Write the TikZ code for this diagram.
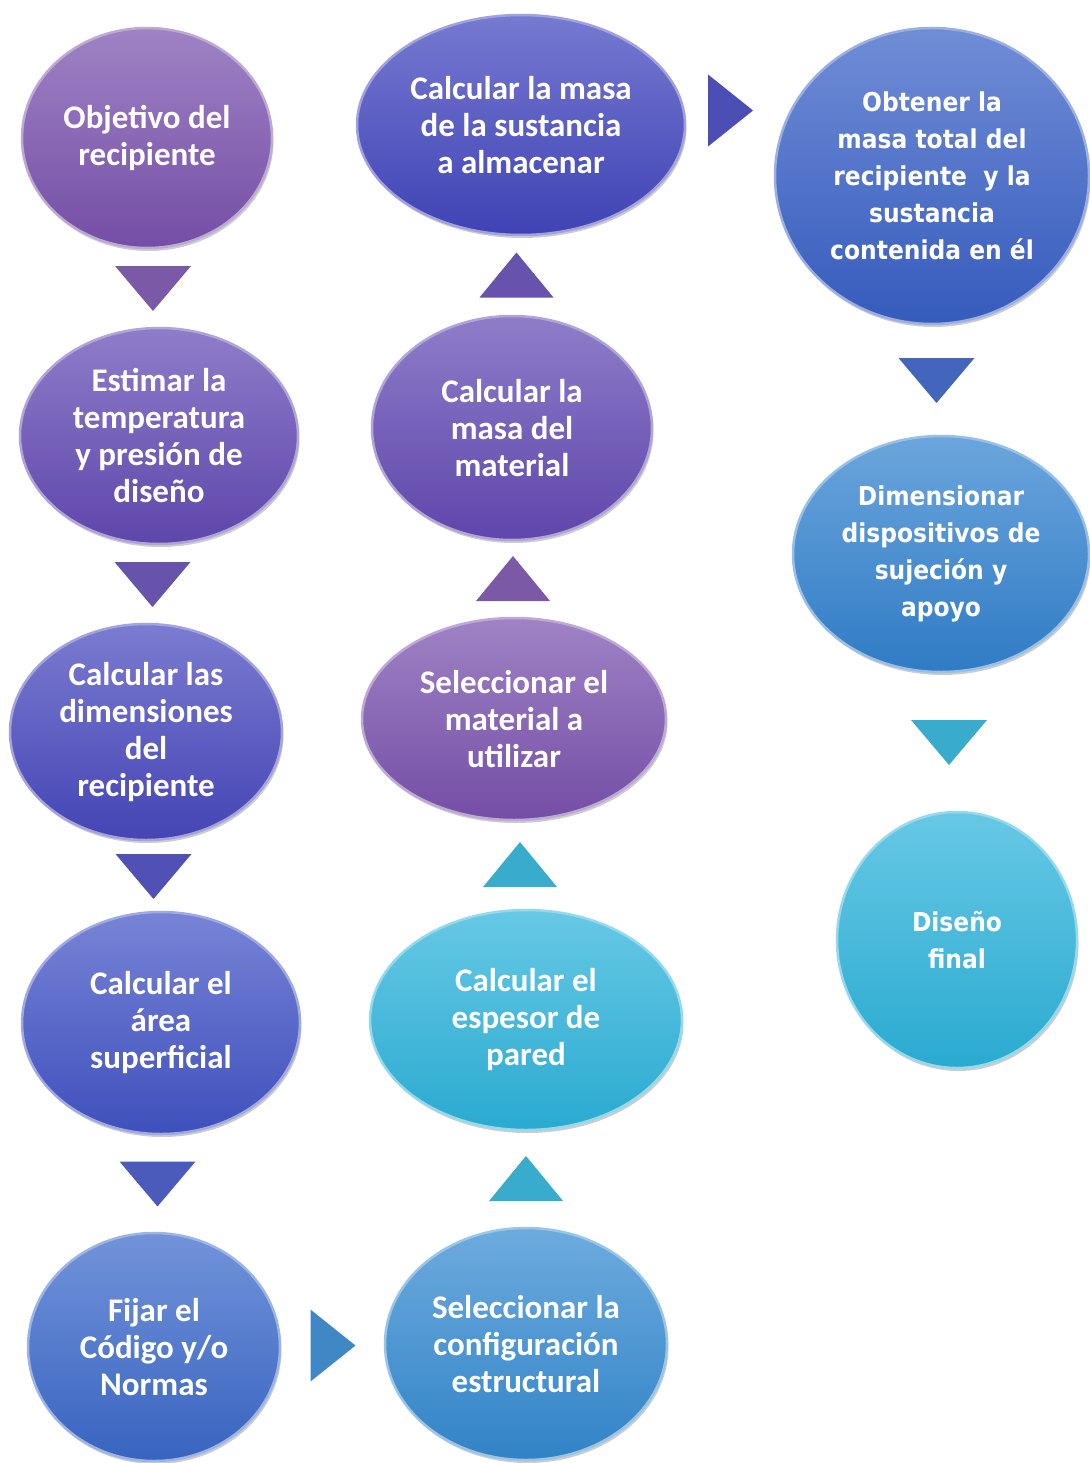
\documentclass[tikz,border=0pt]{standalone}
\usepackage{fontspec}
\usepackage{tikz}
\usetikzlibrary{shapes,arrows,shadows,calc}
\newfontfamily\calibfont{Carlito}
\newfontfamily\verdfont[FakeStretch=0.9]{DejaVu Sans}

\definecolor{lilaA}{HTML}{7A52AE}
\definecolor{lilaB}{HTML}{634AB4}
\definecolor{azulA}{HTML}{4848BE}
\definecolor{azulB}{HTML}{4254C6}
\definecolor{azulC}{HTML}{3B69CA}
\definecolor{azulD}{HTML}{348AD1}
\definecolor{cian}{HTML}{2CB3DB}
\definecolor{azulM}{HTML}{4246BE}
\definecolor{azulO}{HTML}{3860C6}
\definecolor{azulP}{HTML}{3282CF}

\tikzset{
  etapa/.style={ellipse, inner sep=0pt, align=center, text=white,
    draw=#1!50!white, line width=2.5pt, top color=#1!72!white, bottom color=#1!95!black,
    drop shadow={shadow xshift=1.5pt, shadow yshift=-3pt, opacity=0.4},
    font={\calibfont\bfseries\fontsize{33}{37}\selectfont}},
  etapav/.style={etapa=#1, font={\verdfont\bfseries\fontsize{26}{37}\selectfont}},
  tridown/.pic={\path[pic actions] (-38,-22) -- (38,-22) -- (0,23) -- cycle;},
  triup/.pic={\path[pic actions] (-37,22) -- (37,22) -- (0,-23) -- cycle;},
  triright/.pic={\path[pic actions] (-22,-36) -- (-22,36) -- (23,0) -- cycle;}
}

\begin{document}
\begin{tikzpicture}[x=1pt,y=-1pt]
\useasboundingbox (0,0) rectangle (1089,1463);

\node (obj) at (147,138) [etapa=lilaA, minimum width=250pt, minimum height=220pt] {Objetivo del\\recipiente};
\node (est) at (159,436) [etapa=lilaB, minimum width=278pt, minimum height=216pt] {Estimar la\\temperatura\\y presión de\\diseño};
\node (dim) at (146,732) [etapa=azulA, minimum width=272pt, minimum height=216pt] {Calcular las\\dimensiones\\del\\recipiente};
\node (are) at (161,1023) [etapa=azulB, minimum width=278pt, minimum height=222pt] {Calcular el\\área\\superficial};
\node (fij) at (154,1347) [etapa=azulC, minimum width=252pt, minimum height=228pt] {Fijar el\\Código y/o\\Normas};

\node (con) at (526,1344) [etapa=azulD, minimum width=282pt, minimum height=232pt] {Seleccionar la\\configuración\\estructural};
\node (esp) at (526,1020) [etapa=cian, minimum width=312pt, minimum height=220pt] {Calcular el\\espesor de\\pared};
\node (sel) at (514,719) [etapa=lilaA, minimum width=304pt, minimum height=202pt] {Seleccionar el\\material a\\utilizar};
\node (mma) at (512,428) [etapa=lilaB, minimum width=280pt, minimum height=224pt] {Calcular la\\masa del\\material};
\node (mss) at (521,125) [etapa=azulM, minimum width=328pt, minimum height=220pt] {Calcular la masa\\de la sustancia\\a almacenar};

\node (obt) at (932,176) [etapav=azulO, minimum width=314pt, minimum height=296pt] {Obtener la\\masa total del\\recipiente\ \ y la\\sustancia\\contenida en él};
\node (dis) at (941,554) [etapav=azulP, minimum width=296pt, minimum height=236pt] {Dimensionar\\dispositivos de\\sujeción y\\apoyo};
\node (fin) at (957,940) [etapav=cian, minimum width=240pt, minimum height=256pt] {Diseño\\final};

\pic [fill=lilaA!85!gray] at ($(obj.south)!0.5!(est.north)$) {tridown};
\pic [fill=lilaB!85!gray] at ($(est.south)!0.5!(dim.north)$) {tridown};
\pic [fill=azulA!85!gray] at ($(dim.south)!0.5!(are.north)$) {tridown};
\pic [fill=azulB!85!gray] at ($(are.south)!0.5!(fij.north)$) {tridown};
\pic [fill=azulD!85!gray] at ($(fij.east)!0.5!(con.west)$) {triright};
\pic [fill=cian!85!gray] at ($(con.north)!0.5!(esp.south)$) {triup};
\pic [fill=cian!85!gray] at ($(esp.north)!0.5!(sel.south)$) {triup};
\pic [fill=lilaA!85!gray] at ($(sel.north)!0.5!(mma.south)$) {triup};
\pic [fill=lilaB!85!gray] at ($(mma.north)!0.5!(mss.south)$) {triup};
\pic [fill=azulM!85!gray] at ([yshift=40pt]$(mss.east)!0.5!(obt.west)$) {triright};
\pic [fill=azulO!85!gray] at ($(obt.south)!0.5!(dis.north)$) {tridown};
\pic [fill=cian!85!gray] at ($(dis.south)!0.5!(fin.north)$) {tridown};
\end{tikzpicture}
\end{document}
